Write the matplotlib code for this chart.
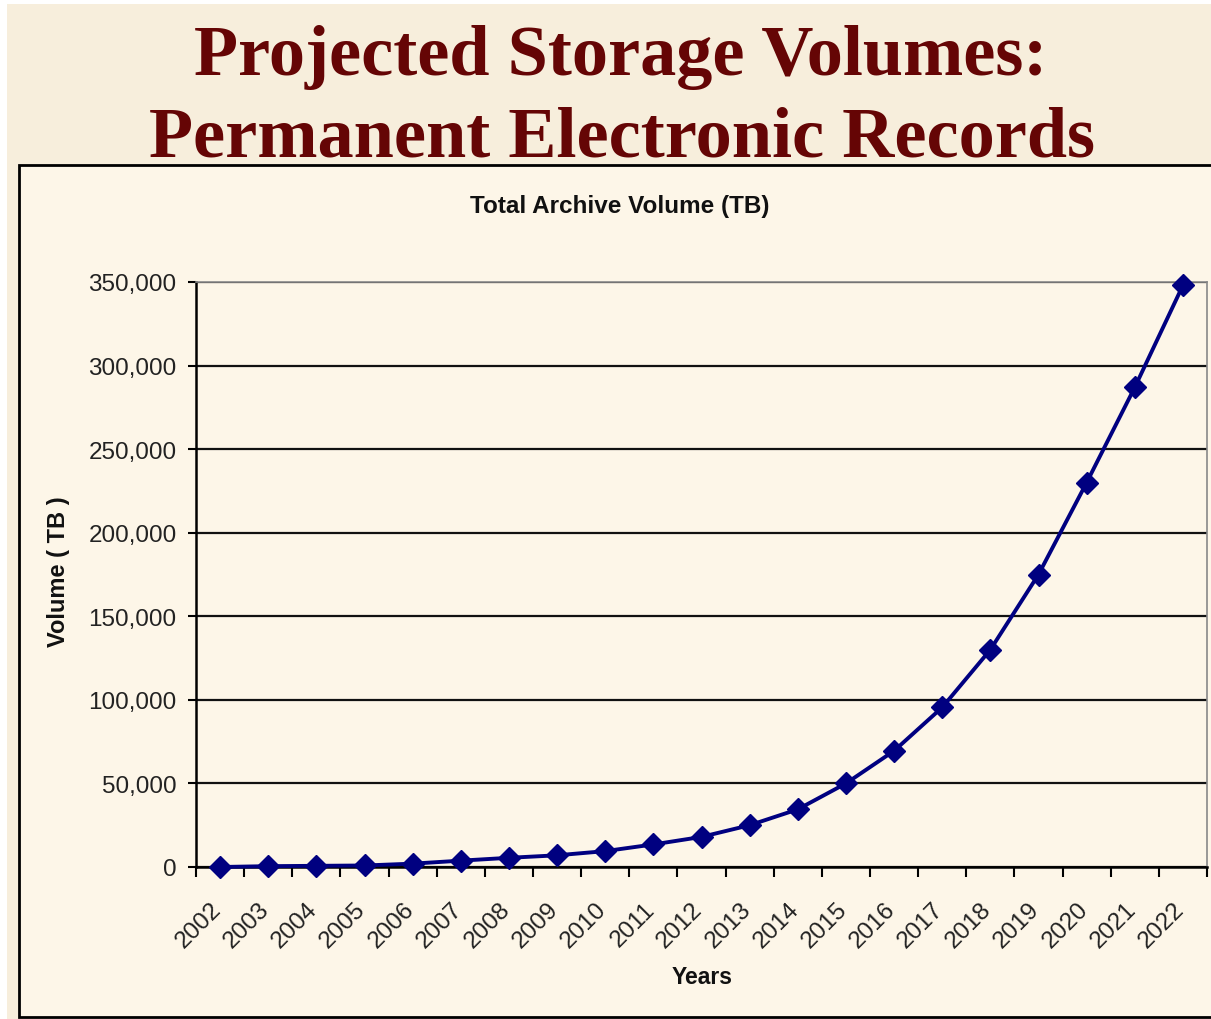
import matplotlib
matplotlib.use("Agg")
import matplotlib.pyplot as plt
from matplotlib.patches import Rectangle
from matplotlib.transforms import ScaledTranslation
from matplotlib.ticker import FuncFormatter
import numpy as np

# data
years = ["2002", "2003", "2004", "2005", "2006", "2007", "2008", "2009", "2010", "2011",
         "2012", "2013", "2014", "2015", "2016", "2017", "2018", "2019", "2020", "2021", "2022"]
volume_tb = [0, 500, 700, 900, 2000, 3800, 5500, 7000, 9500, 13500,
             18000, 25000, 34500, 50000, 69500, 95500, 130000, 175000, 230000, 287000, 348000]
y_ticks = [0, 50000, 100000, 150000, 200000, 250000, 300000, 350000]

W, H = 1211, 1020
fig = plt.figure(figsize=(W / 100, H / 100), dpi=100, facecolor="white")

# parchment background and the chart box
fig.patches.append(Rectangle((7 / W, 0), 1, 1 - 5 / H, transform=fig.transFigure,
                             facecolor="#f7eedc", edgecolor="none", zorder=-3))
fig.patches.append(Rectangle((19 / W, 1 - 1018 / H), 1.2, (1018 - 166) / H,
                             transform=fig.transFigure, facecolor="#fdf6e8",
                             edgecolor="black", linewidth=2, zorder=-2))

# slide title
title_kw = dict(ha="center", va="center", color="#650505", fontsize=52,
                fontweight="bold", family="Liberation Serif")
fig.text(621 / W, 1 - 58 / H, "Projected Storage Volumes:", **title_kw)
fig.text(622 / W, 1 - 139 / H, "Permanent Electronic Records", **title_kw)

left, right, bottom, top = 196, 1207, 868, 283
ax = fig.add_axes([left / W, 1 - bottom / H, (right - left) / W, (bottom - top) / H])
ax.set_facecolor("none")

x = np.arange(len(years))
ax.plot(x, volume_tb, color="#000080", linewidth=2.8, marker="D", markersize=11,
        markerfacecolor="#000080", markeredgecolor="#000080", zorder=3, clip_on=False)

ax.set_xlim(-0.5, len(years) - 0.5)
ax.set_ylim(0, 350000)

ax.set_yticks(y_ticks)
ax.yaxis.set_major_formatter(FuncFormatter(lambda v, p: f"{int(v):,}"))
ax.grid(axis="y", color="#111111", linewidth=1.6)
ax.tick_params(axis="y", direction="out", length=6, width=1.5, labelsize=17.5,
               labelcolor="#222222", pad=8)

# category ticks between labels, labels at centers
ax.set_xticks(x)
ax.set_xticklabels(years, rotation=45, ha="right", va="top", rotation_mode="anchor",
                   fontsize=17.5, color="#222222")
ax.set_xticks(np.arange(len(years) + 1) - 0.5, minor=True)
ax.tick_params(axis="x", which="major", length=0, pad=22)
ax.tick_params(axis="x", which="minor", direction="out", length=7, width=1.5)
shift = ScaledTranslation(-10 / 100, 0, fig.dpi_scale_trans)
for lab in ax.get_xticklabels():
    lab.set_transform(lab.get_transform() + shift)

for s in ["left", "bottom"]:
    ax.spines[s].set_color("black")
    ax.spines[s].set_linewidth(1.8)
for s in ["top", "right"]:
    ax.spines[s].set_color("#888888")
    ax.spines[s].set_linewidth(1.2)

for t in ax.get_xticklabels() + ax.get_yticklabels():
    t.set_family("Liberation Sans")

fig.text(620 / W, 1 - 207 / H, "Total Archive Volume (TB)", ha="center", va="center",
         fontsize=17.5, fontweight="bold", family="Liberation Sans", color="#111111")
fig.text(58 / W, 1 - 572 / H, "Volume ( TB )", ha="center", va="center", rotation=90,
         fontsize=17, fontweight="bold", family="Liberation Sans", color="#111111")
fig.text(702 / W, 1 - 978 / H, "Years", ha="center", va="center",
         fontsize=16.5, fontweight="bold", family="Liberation Sans", color="#111111")

fig.savefig("out.png", dpi=100, facecolor=fig.get_facecolor())
